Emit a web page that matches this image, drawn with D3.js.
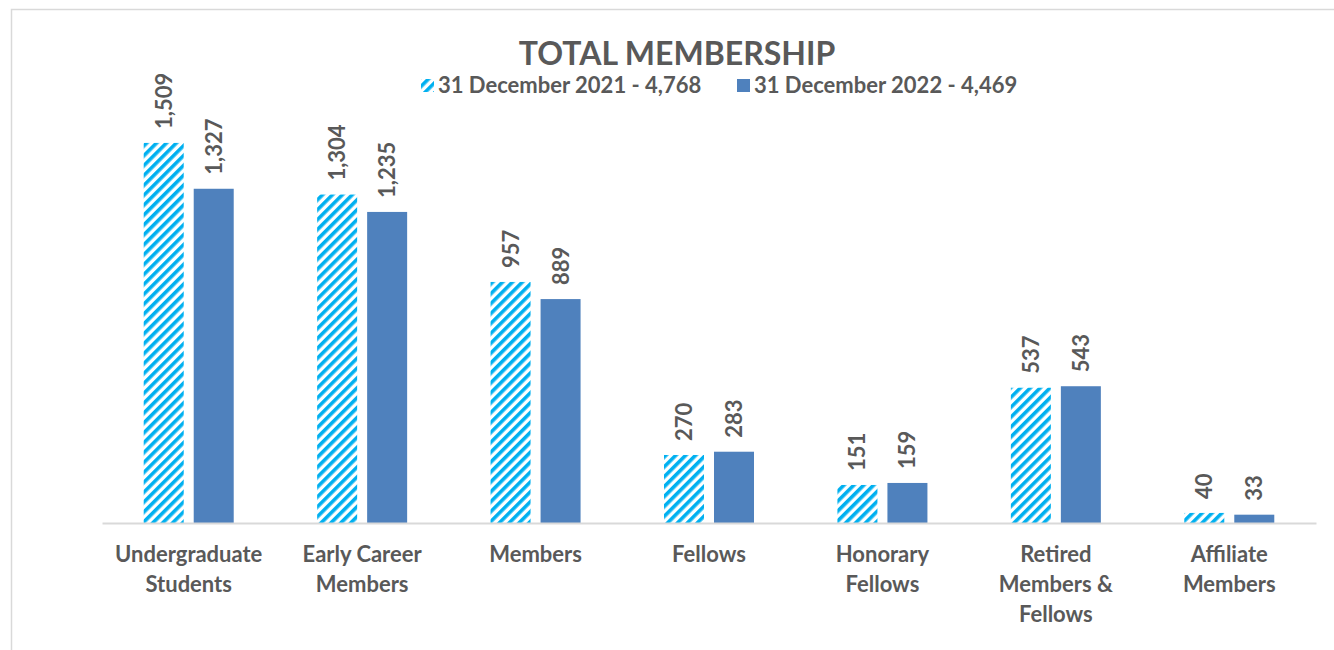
<!DOCTYPE html>
<html><head><meta charset="utf-8">
<script src="https://cdn.jsdelivr.net/npm/d3@7"></script>
<style>body{margin:0;background:#fff;}svg{display:block;}</style>
</head><body>
<svg id="chart" width="1334" height="650"></svg>
<script>
const categories = [["Undergraduate","Students"],["Early Career","Members"],["Members"],["Fellows"],["Honorary","Fellows"],["Retired","Members &","Fellows"],["Affiliate","Members"]];
const series2021 = [1509,1304,957,270,151,537,40];
const series2022 = [1327,1235,889,283,159,543,33];
const seriesNames = ["31 December 2021 - 4,768","31 December 2022 - 4,469"];
const titleText = "TOTAL MEMBERSHIP";

const svg = d3.select("#chart");
const font = "Lato, 'Open Sans', sans-serif";
const txt = "#595959";

const defs = svg.append("defs");
const pat = defs.append("pattern").attr("id","hatch").attr("patternUnits","userSpaceOnUse")
  .attr("width",7).attr("height",7).attr("patternTransform","rotate(45)");
pat.append("rect").attr("width",7).attr("height",7).attr("fill","#fff");
pat.append("rect").attr("width",3.6).attr("height",7).attr("fill","#00B0F0");

// border
svg.append("path").attr("d","M11.5,650 V9.5 H1334").attr("fill","none").attr("stroke","#d9d9d9").attr("stroke-width",1.5);

const x0 = d3.scaleBand().domain(d3.range(categories.length)).range([102,1316]);
const y = d3.scaleLinear().domain([0,1600]).range([523,120]);
const barW = 40, gap = 10;

const colors = ["url(#hatch)","#4F81BD"];
const data = [series2021, series2022];

data.forEach((vals, si) => {
  const g = svg.append("g");
  vals.forEach((v, i) => {
    const cx = x0(i) + x0.bandwidth()/2;
    const bx = si === 0 ? cx - gap/2 - barW : cx + gap/2;
    g.append("rect").attr("x",bx).attr("y",y(v)).attr("width",barW).attr("height",y(0)-y(v)).attr("fill",colors[si]);
    g.append("text").attr("transform",`translate(${bx+barW/2+8},${y(v)-14}) rotate(-90)`)
      .attr("font-family",font).attr("font-weight","bold").attr("font-size",22).attr("fill",txt)
      .attr("text-anchor","start").text(d3.format(",")(v));
  });
});

// axis
const xAxis = d3.axisBottom(x0).tickSize(0).tickFormat("");
const ax = svg.append("g").attr("transform","translate(0,523)").call(xAxis);
ax.select(".domain").attr("stroke","#d9d9d9").attr("stroke-width",2);

categories.forEach((lines, i) => {
  const cx = x0(i) + x0.bandwidth()/2;
  const t = svg.append("text").attr("font-family",font).attr("font-weight","bold").attr("font-size",22)
    .attr("fill",txt).attr("text-anchor","middle");
  lines.forEach((l, k) => t.append("tspan").attr("x",cx).attr("y",562 + k*30).text(l));
});

svg.append("text").attr("x",677).attr("y",65).attr("text-anchor","middle").attr("font-family",font)
  .attr("font-weight","bold").attr("font-size",32).attr("fill",txt).text(titleText);

// legend
const leg = [{x:421, fill:"url(#hatch)", t:seriesNames[0]},{x:737, fill:"#4F81BD", t:seriesNames[1]}];
leg.forEach(d => {
  svg.append("rect").attr("x",d.x).attr("y",79).attr("width",13).attr("height",13).attr("fill",d.fill);
  svg.append("text").attr("x",d.x+17).attr("y",93).attr("font-family",font).attr("font-weight","bold")
    .attr("font-size",22).attr("fill",txt).text(d.t);
});
</script>
</body></html>
